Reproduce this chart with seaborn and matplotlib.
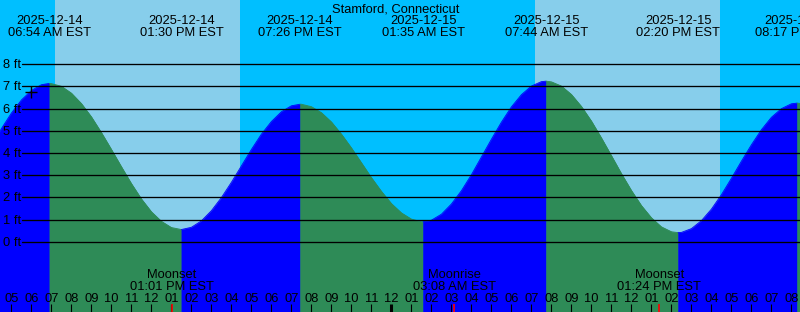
import matplotlib
matplotlib.use("Agg")
import matplotlib.pyplot as plt
import matplotlib.transforms as mtransforms
import numpy as np
import pandas as pd
import seaborn as sns

# ---------------- data ----------------
title = "Stamford, Connecticut"

# tide height (ft) read every half hour; hours counted from 2025-12-14 00:00 EST
reading_start, reading_step = 4.0, 0.5
reading_heights = [
    4.32, 5.10, 5.80, 6.39, 6.82, 7.08, 7.13, 7.01, 6.70, 6.23,
    5.63, 4.92, 4.16, 3.38, 2.62, 1.93, 1.35, 0.92, 0.64, 0.55,
    0.65, 0.94, 1.40, 1.99, 2.68, 3.42, 4.16, 4.85, 5.42, 5.86,
    6.13, 6.20, 6.09, 5.82, 5.40, 4.85, 4.23, 3.56, 2.89, 2.27,
    1.72, 1.30, 1.02, 0.90, 0.97, 1.24, 1.70, 2.30, 3.02, 3.82,
    4.62, 5.39, 6.08, 6.63, 7.02, 7.22, 7.21, 7.02, 6.64, 6.10,
    5.44, 4.68, 3.88, 3.07, 2.31, 1.63, 1.08, 0.67, 0.45, 0.42,
    0.59, 0.95, 1.47, 2.12, 2.86, 3.63, 4.37, 5.05, 5.61, 6.00,
    6.22, 6.23, 6.18]

# high / low tides
extreme_dates = ["2025-12-14", "2025-12-14", "2025-12-14", "2025-12-15",
                 "2025-12-15", "2025-12-15", "2025-12-15"]
extreme_labels = ["06:54 AM EST", "01:30 PM EST", "07:26 PM EST", "01:35 AM EST",
                  "07:44 AM EST", "02:20 PM EST", "08:17 PM EST"]
extreme_heights = [7.14, 0.55, 6.20, 0.90, 7.24, 0.41, 6.25]
extreme_is_high = [True, False, True, False, True, False, True]

# sun (daylight shading)
sunrise_dates = ["2025-12-14", "2025-12-15"]
sunrise_labels = ["07:12 AM EST", "07:12 AM EST"]
sunset_labels = ["04:27 PM EST", "04:27 PM EST"]

# moon events
moon_names = ["Moonset", "Moonrise", "Moonset"]
moon_dates = ["2025-12-14", "2025-12-15", "2025-12-15"]
moon_labels = ["01:01 PM EST", "03:08 AM EST", "01:24 PM EST"]

# current-time marker
now_date, now_label, now_height = "2025-12-14", "05:58 AM EST", 6.74

y_levels = list(range(0, 9))
hour_ticks = list(range(5, 45))

start_hour = 4.43   # left edge of the chart
span_hours = 40


def to_hours(date, label):
    day = int(date[-2:]) - 14
    hh, mm = label[:5].split(":")
    h = int(hh) % 12 + (12 if label[6:8] == "PM" else 0)
    return day * 24 + h + int(mm) / 60.0


reading_times = [reading_start + i * reading_step for i in range(len(reading_heights))]
extreme_times = [to_hours(d, l) for d, l in zip(extreme_dates, extreme_labels)]

# ---------------- style ----------------
sns.set_theme(style="white")
plt.rcParams["font.family"] = ["Liberation Sans", "DejaVu Sans"]
FS = 9.3
NIGHT = "#00BFFF"
DAY = "#87CEEB"
RISE = "#0000FF"
FALL = "#2E8B57"

fig = plt.figure(figsize=(8, 3.12), dpi=100)
ax = fig.add_axes([0, 0, 1, 1])
x0, x1 = start_hour, start_hour + span_hours
y0, y1 = -3.17, 10.90

# background: night / day
ax.axvspan(x0, x1, color=NIGHT, lw=0, zorder=0)
for d, sr, ss in zip(sunrise_dates, sunrise_labels, sunset_labels):
    ax.axvspan(to_hours(d, sr), to_hours(d, ss), color=DAY, lw=0, zorder=1)

# tide curve
df = (pd.DataFrame({"t": reading_times + extreme_times,
                    "h": reading_heights + extreme_heights})
      .drop_duplicates("t", keep="last").sort_values("t"))
bounds = [reading_times[0]] + extreme_times + [reading_times[-1]]
seg_high = extreme_is_high + [not extreme_is_high[-1]]
for i in range(len(bounds) - 1):
    a, b = bounds[i], bounds[i + 1]
    seg = df[(df.t >= a) & (df.t <= b)]
    col = RISE if seg_high[i] else FALL
    ax.fill_between(seg.t, seg.h, y0 - 1, color=col, lw=0.4, edgecolor=col, zorder=2)
    sns.lineplot(data=seg, x="t", y="h", color=col, lw=0.6, ax=ax, zorder=2,
                 estimator=None, sort=True)
ax.set_xlim(x0, x1)
ax.set_ylim(y0, y1)
ax.axis("off")

# horizontal foot lines and labels
ylab_tr = mtransforms.offset_copy(ax.get_yaxis_transform(), fig=fig, y=-4, units="dots")
for v in y_levels:
    ax.axhline(v, xmin=22 / 800, xmax=1, color="black", lw=0.95, zorder=4)
    ax.text(3 / 800, v, f"{v} ft", transform=ylab_tr, ha="left", va="baseline",
            fontsize=FS, color="black", zorder=6)

# current time marker
ax.plot([to_hours(now_date, now_label)], [now_height], marker="+", ms=8,
        mew=1.0, color="black", zorder=6)

xtr = ax.get_xaxis_transform()
H = 312.0

# title
ax.text(0.495, 1 - 12 / H, title, transform=ax.transAxes, ha="center",
        va="baseline", fontsize=FS, color="black", zorder=6)

# tide extreme labels
for t, d, l in zip(extreme_times, extreme_dates, extreme_labels):
    ax.text(t, 1 - 24 / H, d, transform=xtr, ha="center", va="baseline",
            fontsize=FS, color="black", zorder=6)
    ax.text(t, 1 - 36 / H, l, transform=xtr, ha="center", va="baseline",
            fontsize=FS, color="black", zorder=6)

# hour labels and ticks
for h in hour_ticks:
    lab = f"{(h - 1) % 12 + 1:02d}"
    ax.text(h, 1 - 302 / H, lab, transform=xtr, ha="center", va="baseline",
            fontsize=FS, color="black", zorder=6)
    lw = 2.2 if h % 24 == 0 else 0.8
    ax.plot([h, h], [0, 8 / H], transform=xtr, color="black", lw=lw,
            solid_capstyle="butt", zorder=6)

# moon events
for n, d, l in zip(moon_names, moon_dates, moon_labels):
    t = to_hours(d, l)
    ax.text(t, 1 - 278 / H, n, transform=xtr, ha="center", va="baseline",
            fontsize=FS, color="black", zorder=6)
    ax.text(t, 1 - 290 / H, l, transform=xtr, ha="center", va="baseline",
            fontsize=FS, color="black", zorder=6)
    ax.plot([t, t], [0, 8 / H], transform=xtr, color="#FF0000", lw=1.2,
            solid_capstyle="butt", zorder=7)

fig.savefig("out.png", dpi=100)
